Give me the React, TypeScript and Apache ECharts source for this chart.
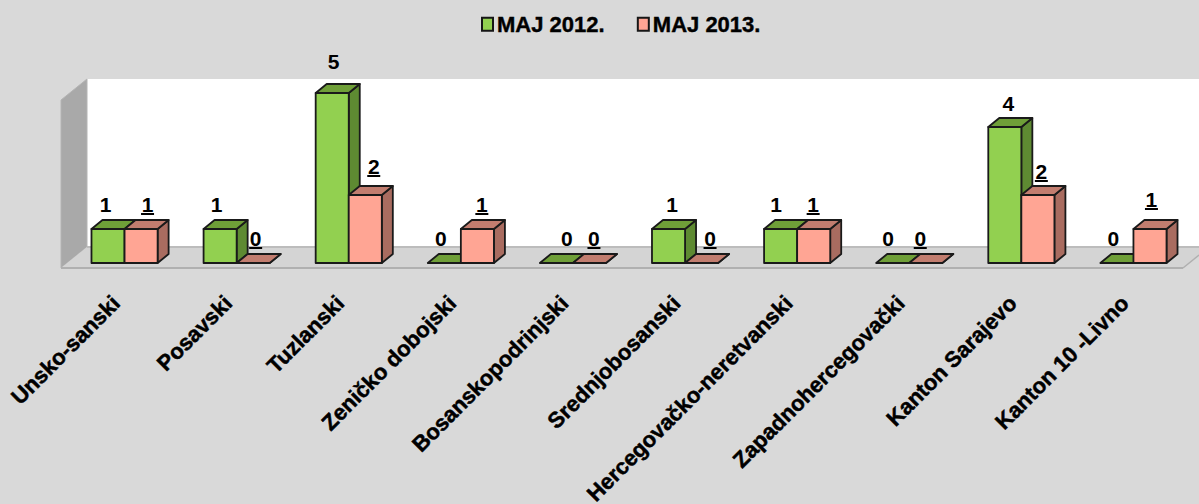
import React, { useEffect, useRef } from "react";
import * as echarts from "echarts";

const categories = ["Unsko-sanski", "Posavski", "Tuzlanski", "Zeničko dobojski", "Bosanskopodrinjski", "Srednjobosanski", "Hercegovačko-neretvanski", "Zapadnohercegovački", "Kanton Sarajevo", "Kanton 10 -Livno"];
const maj2012 = [1, 1, 5, 0, 0, 1, 1, 0, 4, 0];
const maj2013 = [1, 0, 2, 1, 0, 0, 1, 0, 2, 1];
const labelDy2012 = [0, 0, -7, 0, 0, 0, 0, 0, 1, 0];
const labelDy2013 = [0, 0, -4, 0, 0, 0, 0, 0, 1, -5];
const labelDx2012 = [14, 13, 18, 13, 27, 20, 12, 12, 20, 13];
const labelDx2013 = [23, 19, 25, 21, 21, 25, 16, 11, 20, 18];

const FONT = '"Liberation Sans", Arial, sans-serif';
const DEPTH_X = 11;
const DEPTH_Y = 9;

const makeRender = (side: number, front: string, dark: string, top: string, underline: boolean, dys: number[], dxs: number[]) =>
  (params: any, api: any) => {
    const idx = api.value(0);
    const val = api.value(1);
    const [cx, y1] = api.coord([idx, val]);
    const [, y0] = api.coord([idx, 0]);
    const w = api.size([1, 0])[0] * 0.295;
    const xa = side < 0 ? cx - w : cx;
    const xb = xa + w;
    const edge = { stroke: "#1a1a1a", lineWidth: 1.8, lineJoin: "round" };
    const children: any[] = [
      { type: "polygon", shape: { points: [[xb, y0], [xb + DEPTH_X, y0 - DEPTH_Y], [xb + DEPTH_X, y1 - DEPTH_Y], [xb, y1]] }, style: { fill: dark, ...edge } },
      { type: "polygon", shape: { points: [[xa, y1], [xa + DEPTH_X, y1 - DEPTH_Y], [xb + DEPTH_X, y1 - DEPTH_Y], [xb, y1]] }, style: { fill: top, ...edge } },
    ];
    if (val > 0) {
      children.push({ type: "rect", shape: { x: xa, y: y1, width: w, height: y0 - y1 }, style: { fill: front, ...edge } });
    }
    const lx = xa + dxs[params.dataIndex];
    const ly = y1 - 24.5 + dys[params.dataIndex];
    children.push({
      type: "text",
      style: { text: String(val), x: lx, y: ly, fill: "#000", fontSize: 21, fontWeight: "bold", fontFamily: FONT, align: "center", verticalAlign: "middle" },
    });
    if (underline) {
      children.push({ type: "line", shape: { x1: lx - 6.5, y1: ly + 9.5, x2: lx + 6.5, y2: ly + 9.5 }, style: { stroke: "#000", lineWidth: 2 } });
    }
    return { type: "group", children };
  };

export default function App() {
  const ref = useRef<HTMLDivElement>(null);
  useEffect(() => {
    const chart = echarts.init(ref.current!, undefined, { renderer: "svg" });
    chart.setOption({
      animation: false,
      backgroundColor: "#d9d9d9",
      grid: { left: 68.5, top: 93, width: 1121, height: 170, outerBoundsMode: "none" },
      legend: {
        left: 481,
        top: 13,
        padding: 0,
        itemWidth: 11,
        itemHeight: 13,
        itemGap: 32,
        textStyle: { fontFamily: FONT, fontWeight: "bold", fontSize: 22, color: "#000", padding: [0, 0, 0, -1], textBorderColor: "#000", textBorderWidth: 0.4 },
        data: [
          { name: "MAJ 2012.", icon: "rect" },
          { name: "MAJ 2013.", icon: "rect" },
        ],
      },
      xAxis: {
        type: "category",
        data: categories,
        axisLine: { show: false },
        axisTick: { show: false },
        axisLabel: { rotate: 45, interval: 0, margin: 28, padding: [0, 12, 0, 0], color: "#000", fontFamily: FONT, fontWeight: "bold", fontSize: 22, textBorderColor: "#000", textBorderWidth: 0.5 },
      },
      yAxis: { type: "value", min: 0, max: 5, show: false },
      graphic: {
        z: -1,
        elements: [
          { type: "rect", silent: true, z: -10, shape: { x: 87, y: 79, width: 1112, height: 168 }, style: { fill: "#ffffff" } },
          { type: "polygon", silent: true, z: -9, shape: { points: [[61, 100], [87, 79], [87, 247], [61, 268]] }, style: { fill: "#a9a9a9", stroke: "#b4b4b4", lineWidth: 1 } },
          { type: "polygon", silent: true, z: -9, shape: { points: [[61, 268], [87, 247], [1199, 247], [1199, 255], [1183, 268]] }, style: { fill: "#d4d4d4" } },
          { type: "line", silent: true, z: -8, shape: { x1: 87, y1: 247, x2: 1199, y2: 247 }, style: { stroke: "#bcbcbc", lineWidth: 2 } },
          { type: "line", silent: true, z: -8, shape: { x1: 61, y1: 268, x2: 1183, y2: 268 }, style: { stroke: "#b0b0b0", lineWidth: 2 } },
          { type: "line", silent: true, z: -8, shape: { x1: 1183, y1: 268, x2: 1199, y2: 255 }, style: { stroke: "#b0b0b0", lineWidth: 1.5 } },
        ],
      },
      series: [
        {
          name: "MAJ 2012.",
          type: "custom",
          renderItem: makeRender(-1, "#92d050", "#5e8a32", "#6f9f38", false, labelDy2012, labelDx2012),
          encode: { x: 0, y: 1 },
          data: maj2012.map((v, i) => [i, v]),
          itemStyle: { color: "#92d050", borderColor: "#161616", borderWidth: 1.5 },
          z: 2,
        },
        {
          name: "MAJ 2013.",
          type: "custom",
          renderItem: makeRender(1, "#ffa594", "#a96c60", "#c27d6f", true, labelDy2013, labelDx2013),
          encode: { x: 0, y: 1 },
          data: maj2013.map((v, i) => [i, v]),
          itemStyle: { color: "#ffa594", borderColor: "#161616", borderWidth: 1.5 },
          z: 3,
        },
      ],
    });
    return () => chart.dispose();
  }, []);
  return <div ref={ref} style={{ position: "fixed", left: 0, top: 0, width: 1199, height: 504 }} />;
}
